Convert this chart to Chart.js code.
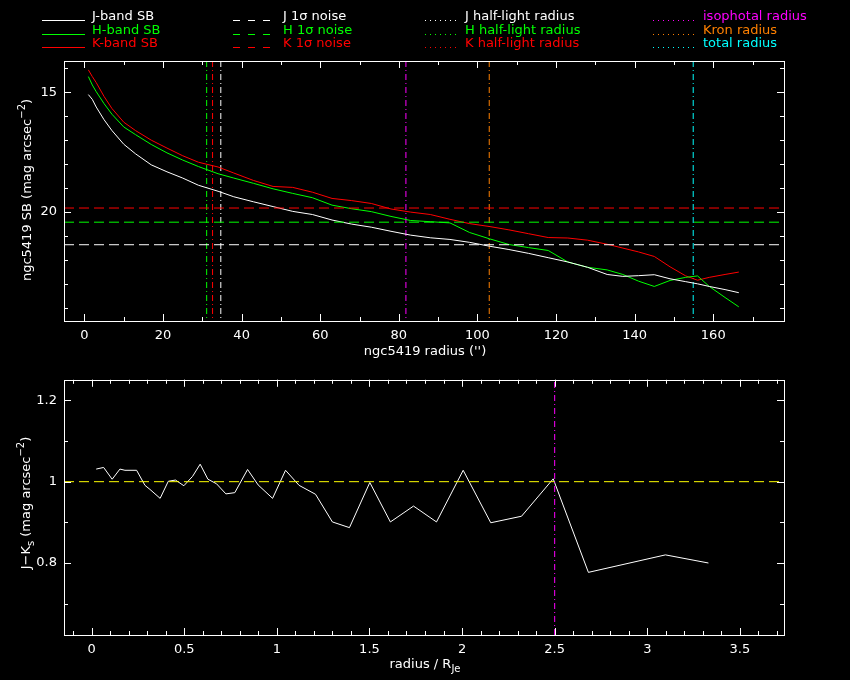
<!DOCTYPE html>
<html>
<head>
<meta charset="utf-8">
<script src="https://cdn.jsdelivr.net/npm/chart.js@4.4.0/dist/chart.umd.min.js"></script>
<style>
  html, body { margin: 0; padding: 0; background: #000; }
  #wrap { position: relative; width: 850px; height: 680px; background: #000; overflow: hidden; }
  canvas { position: absolute; left: 0; }
</style>
</head>
<body>
<div id="wrap">
  <canvas id="sbChart" width="850" height="365" style="top:0"></canvas>
  <canvas id="jkChart" width="850" height="315" style="top:365px"></canvas>
</div>
<script>
const FONT = '"DejaVu Sans", "Liberation Sans", sans-serif';

// radius grid of the profiles ('')
const radius = [1, 2, 3, 5, 7, 10, 13, 17, 21, 25, 29, 34, 38, 43, 48, 53, 58, 63, 68, 73, 78,
  83, 88, 93, 98, 103, 108, 113, 118, 123, 128, 133, 137, 141, 145, 149, 153, 156, 159, 163, 166.5];
// surface brightness per band (mag arcsec^-2)
const jSB = [15.1, 15.3, 15.62, 16.15, 16.6, 17.17, 17.57, 18.03, 18.32, 18.58, 18.88, 19.13, 19.36, 19.57,
  19.77, 19.97, 20.1, 20.33, 20.5, 20.63, 20.8, 20.96, 21.07, 21.14, 21.26, 21.42, 21.56, 21.72, 21.9,
  22.08, 22.3, 22.6, 22.68, 22.65, 22.61, 22.78, 22.9, 22.99, 23.1, 23.23, 23.36];
const hSB = [14.35, 14.7, 14.98, 15.48, 15.92, 16.45, 16.77, 17.18, 17.53, 17.83, 18.1, 18.4, 18.58, 18.8,
  19.03, 19.22, 19.4, 19.71, 19.86, 19.98, 20.18, 20.35, 20.4, 20.45, 20.85, 21.11, 21.35, 21.48, 21.6,
  22.08, 22.3, 22.41, 22.6, 22.88, 23.1, 22.85, 22.72, 22.66, 23.1, 23.56, 23.95];
const kSB = [14.07, 14.35, 14.6, 15.18, 15.68, 16.25, 16.6, 17.0, 17.33, 17.65, 17.92, 18.12, 18.37, 18.68,
  18.93, 18.97, 19.17, 19.43, 19.52, 19.64, 19.87, 20.0, 20.1, 20.3, 20.48, 20.6, 20.74, 20.9, 21.06,
  21.08, 21.17, 21.34, 21.5, 21.66, 21.85, 22.28, 22.66, 22.84, 22.72, 22.6, 22.5];

// 1 sigma noise levels (J, H, K)
const noiseLevel = [21.36, 20.42, 19.83];
// half-light radii (J, H, K)
const halfLight = [34.7, 31.1, 32.6];
// isophotal, Kron, total radius
const apertureRadius = [81.8, 103.0, 154.9];

// J-Ks colour profile
const jkRadius = [0.025, 0.065, 0.111, 0.153, 0.18, 0.243, 0.288, 0.315, 0.37, 0.414, 0.453, 0.498, 0.545,
  0.586, 0.628, 0.674, 0.725, 0.773, 0.842, 0.899, 0.977, 1.047, 1.12, 1.209, 1.3, 1.392, 1.502, 1.613,
  1.738, 1.862, 2.006, 2.155, 2.321, 2.492, 2.682, 3.098, 3.33];
const jkColour = [1.031, 1.035, 1.006, 1.031, 1.028, 1.028, 0.991, 0.981, 0.959, 1.001, 1.004, 0.99, 1.013,
  1.043, 1.006, 0.995, 0.97, 0.973, 1.03, 0.992, 0.959, 1.028, 0.991, 0.969, 0.901, 0.887, 0.998, 0.901,
  0.94, 0.901, 1.028, 0.899, 0.915, 1.007, 0.777, 0.82, 0.8];
const jkReference = 1.0;
const isoRadiusNorm = 2.5;

// tick labels
const sbXTicks = [0, 20, 40, 60, 80, 100, 120, 140, 160];
const sbYTicks = [15, 20];
const jkXTicks = [0, 0.5, 1, 1.5, 2, 2.5, 3, 3.5];
const jkYTicks = [0.8, 1, 1.2];

const WHITE = '#ffffff', GREEN = '#00ff00', RED = '#ff0000';
const MAGENTA = '#ff00ff', ORANGE = '#ff8000', CYAN = '#00ffff', YELLOW = '#ffff00';
const bandColours = [WHITE, GREEN, RED];
const apertureColours = [MAGENTA, ORANGE, CYAN];
const DASH = [10, 5];
const DASHDOT = [6, 3, 1, 3];

// axis limits
const sbX = [-5.2, 178], sbY = [13.7, 24.54];
const jkX = [-0.149, 3.738], jkY = [0.623, 1.2505];

function curve(xs, ys, colour) {
  return { data: xs.map((x, i) => ({ x: x, y: ys[i] })), borderColor: colour, borderWidth: 1,
    pointRadius: 0, tension: 0, fill: false };
}
function hLine(y, xr, colour, dash) {
  return { data: [{ x: xr[0], y: y }, { x: xr[1], y: y }], borderColor: colour, borderWidth: 1,
    borderDash: dash, pointRadius: 0, fill: false };
}
function vLine(x, yr, colour, dash) {
  return { data: [{ x: x, y: yr[0] }, { x: x, y: yr[1] }], borderColor: colour, borderWidth: 1,
    borderDash: dash, pointRadius: 0, fill: false };
}

// mixed text with super/subscripts: parts = [[text, shift]] shift 1 = sup, -1 = sub
function drawRich(ctx, parts, cx, cy, angle) {
  const big = '13px ' + FONT, small = '10px ' + FONT;
  ctx.save();
  ctx.translate(cx, cy);
  ctx.rotate(angle);
  ctx.textBaseline = 'middle';
  ctx.textAlign = 'left';
  let w = 0;
  parts.forEach(p => { ctx.font = p[1] ? small : big; w += ctx.measureText(p[0]).width; });
  let x = -w / 2;
  parts.forEach(p => {
    ctx.font = p[1] ? small : big;
    ctx.fillText(p[0], x, p[1] === 1 ? -6 : (p[1] === -1 ? 4 : 0));
    x += ctx.measureText(p[0]).width;
  });
  ctx.restore();
}

// PGPLOT-like box: frame and inward ticks on all sides
const framePlugin = {
  id: 'frame',
  afterDatasetsDraw(chart, args, opts) {
    const ctx = chart.ctx, a = chart.chartArea, sx = chart.scales.x, sy = chart.scales.y;
    ctx.save();
    ctx.strokeStyle = WHITE;
    ctx.lineWidth = 1;
    ctx.setLineDash([]);
    ctx.strokeRect(Math.round(a.left) + 0.5, Math.round(a.top) + 0.5,
      Math.round(a.right - a.left), Math.round(a.bottom - a.top));
    ctx.beginPath();
    const xt = (v, len) => {
      const p = Math.round(sx.getPixelForValue(v)) + 0.5;
      ctx.moveTo(p, a.bottom); ctx.lineTo(p, a.bottom - len);
      ctx.moveTo(p, a.top); ctx.lineTo(p, a.top + len);
    };
    const yt = (v, len) => {
      const p = Math.round(sy.getPixelForValue(v)) + 0.5;
      ctx.moveTo(a.left, p); ctx.lineTo(a.left + len, p);
      ctx.moveTo(a.right, p); ctx.lineTo(a.right - len, p);
    };
    opts.xMinor.forEach(v => xt(v, 4));
    opts.xMajor.forEach(v => xt(v, 7));
    opts.yMinor.forEach(v => yt(v, 4));
    opts.yMajor.forEach(v => yt(v, 7));
    ctx.stroke();
    ctx.restore();
  }
};

const textPlugin = {
  id: 'texts',
  afterDraw(chart, args, opts) {
    const ctx = chart.ctx;
    ctx.save();
    ctx.fillStyle = WHITE;
    drawRich(ctx, opts.xTitle, opts.xPos[0], opts.xPos[1], 0);
    drawRich(ctx, opts.yTitle, opts.yPos[0], opts.yPos[1], -Math.PI / 2);
    if (opts.legend) {
      ctx.font = '13px ' + FONT;
      ctx.textBaseline = 'middle';
      const rows = [17, 31, 44];
      const cols = [
        { x0: 42, x1: 85, tx: 92, dash: [], labels: ['J-band SB', 'H-band SB', 'K-band SB'], colours: bandColours },
        { x0: 233, x1: 277, tx: 283, dash: [7, 8], labels: ['J 1\u03c3 noise', 'H 1\u03c3 noise', 'K 1\u03c3 noise'], colours: bandColours },
        { x0: 425, x1: 458, tx: 465, dash: [1, 4], labels: ['J half-light radius', 'H half-light radius', 'K half-light radius'], colours: bandColours },
        { x0: 653, x1: 694, tx: 703, dash: [1, 4], labels: ['isophotal radius', 'Kron radius', 'total radius'], colours: apertureColours }
      ];
      cols.forEach(c => {
        c.labels.forEach((t, i) => {
          const y = rows[i];
          ctx.strokeStyle = c.colours[i];
          ctx.fillStyle = c.colours[i];
          ctx.lineWidth = 1;
          ctx.setLineDash(c.dash);
          ctx.beginPath();
          ctx.moveTo(c.x0, y + 3.5);
          ctx.lineTo(c.x1, y + 3.5);
          ctx.stroke();
          ctx.fillText(t, c.tx, y);
        });
      });
    }
    ctx.restore();
  }
};

function range(a, b, step) {
  const out = [];
  for (let v = a; v <= b + 1e-9; v += step) out.push(Math.round(v * 1000) / 1000);
  return out;
}

function axisOpts(lim, ticks, fit, extra) {
  return Object.assign({
    type: 'linear', min: lim[0], max: lim[1],
    afterBuildTicks: ax => { ax.ticks = ticks.map(v => ({ value: v })); },
    afterFit: fit,
    grid: { display: false, drawTicks: false },
    border: { display: false },
    ticks: { color: WHITE, font: { family: FONT, size: 13 }, padding: 7, maxRotation: 0,
      autoSkip: false, callback: v => String(v) }
  }, extra || {});
}

Chart.defaults.color = WHITE;

// surface brightness profiles
const sbSets = [];
noiseLevel.forEach((lv, i) => sbSets.push(hLine(lv, sbX, bandColours[i], DASH)));
sbSets.push(curve(radius, jSB, WHITE));
sbSets.push(curve(radius, hSB, GREEN));
sbSets.push(curve(radius, kSB, RED));
halfLight.forEach((r, i) => sbSets.push(vLine(r, sbY, bandColours[i], DASHDOT)));
apertureRadius.forEach((r, i) => sbSets.push(vLine(r, sbY, apertureColours[i], DASHDOT)));

new Chart(document.getElementById('sbChart'), {
  type: 'line',
  data: { datasets: sbSets },
  options: {
    responsive: false,
    animation: false,
    layout: { padding: { left: 0, right: 66, top: 61, bottom: 0 } },
    scales: {
      x: axisOpts(sbX, sbXTicks, s => { s.height = 44; }),
      y: axisOpts(sbY, sbYTicks, s => { s.width = 64; }, { reverse: true })
    },
    plugins: {
      legend: { display: false },
      tooltip: { enabled: false },
      frame: { xMajor: sbXTicks, xMinor: range(0, 170, 10), yMajor: sbYTicks, yMinor: range(14, 24, 1) },
      texts: {
        legend: true,
        xTitle: [["ngc5419 radius ('')", 0]], xPos: [425, 352],
        yTitle: [['ngc5419 SB (mag arcsec', 0], ['\u22122', 1], [')', 0]], yPos: [28, 190]
      }
    }
  },
  plugins: [framePlugin, textPlugin]
});

// J-Ks colour profile
new Chart(document.getElementById('jkChart'), {
  type: 'line',
  data: {
    datasets: [
      hLine(jkReference, jkX, YELLOW, DASH),
      vLine(isoRadiusNorm, jkY, MAGENTA, DASHDOT),
      curve(jkRadius, jkColour, WHITE)
    ]
  },
  options: {
    responsive: false,
    animation: false,
    layout: { padding: { left: 0, right: 66, top: 10, bottom: 0 } },
    scales: {
      x: axisOpts(jkX, jkXTicks, s => { s.height = 45; }),
      y: axisOpts(jkY, jkYTicks, s => { s.width = 64; })
    },
    plugins: {
      legend: { display: false },
      tooltip: { enabled: false },
      frame: { xMajor: jkXTicks, xMinor: range(-0.1, 3.7, 0.1), yMajor: jkYTicks, yMinor: range(0.7, 1.2, 0.1) },
      texts: {
        xTitle: [['radius / R', 0], ['Je', -1]], xPos: [425, 300],
        yTitle: [['J\u2212K', 0], ['s', -1], [' (mag arcsec', 0], ['\u22122', 1], [')', 0]], yPos: [27, 138]
      }
    }
  },
  plugins: [framePlugin, textPlugin]
});
</script>
</body>
</html>
